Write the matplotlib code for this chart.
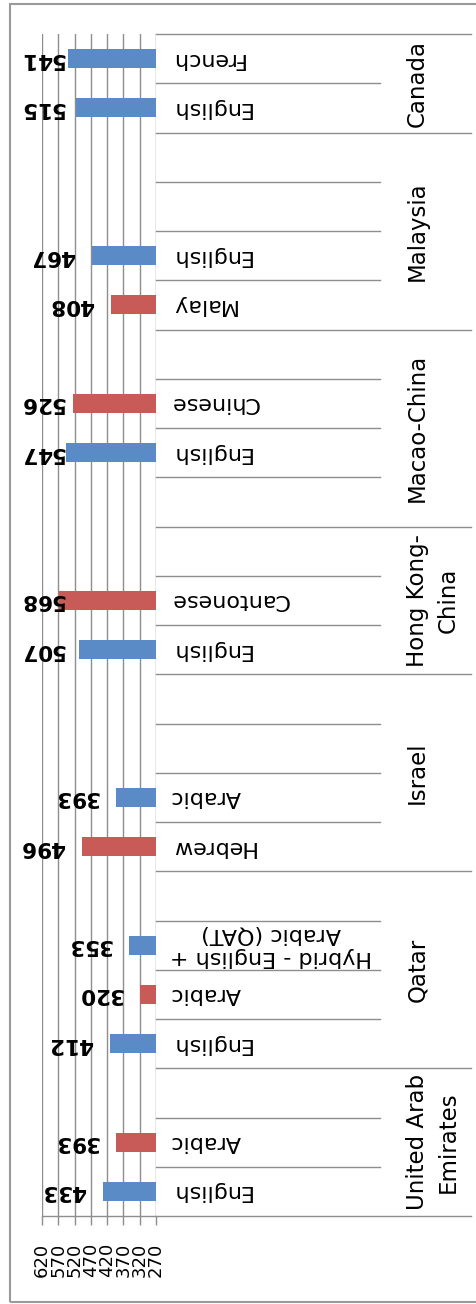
import numpy as np
import matplotlib
matplotlib.use("Agg")
import matplotlib.pyplot as plt
from matplotlib import transforms
from matplotlib.lines import Line2D
from matplotlib.patches import Rectangle

# slots listed bottom -> top, empty slots are spacer rows
countries = ["United Arab\nEmirates", "Qatar", "Israel", "Hong Kong-\nChina",
             "Macao-China", "Malaysia", "Canada"]
group_sizes = [3, 4, 4, 3, 4, 4, 2]
languages = ["English", "Arabic", "",
             "English", "Arabic", "Hybrid - English +\nArabic (QAT)", "",
             "Hebrew", "Arabic", "", "",
             "English", "Cantonese", "",
             "", "English", "Chinese", "",
             "Malay", "English", "", "",
             "English", "French"]
scores = [433, 393, np.nan,
          412, 320, 353, np.nan,
          496, 393, np.nan, np.nan,
          507, 568, np.nan,
          np.nan, 547, 526, np.nan,
          408, 467, np.nan, np.nan,
          515, 541]
# 'b' = blue series, 'r' = red series
series = ["b", "r", "",
          "b", "r", "b", "",
          "r", "b", "", "",
          "b", "r", "",
          "", "b", "r", "",
          "r", "b", "", "",
          "b", "b"]
ticks = [270, 320, 370, 420, 470, 520, 570, 620]

BLUE = "#5b8bc6"
RED = "#c85b57"
GRAY = "#8e8e8e"

W, H = 477, 1304
fig = plt.figure(figsize=(W / 100, H / 100), dpi=100)
fig.patch.set_facecolor("white")

ax = fig.add_axes([42 / W, (H - 1216) / H, 114 / W, (1216 - 34) / H])
ax.set_xlim(620, 270)
ax.set_ylim(-0.5, len(languages) - 0.5)

ypos = np.arange(len(languages))
vals = np.array(scores, dtype=float)
cols = [BLUE if s == "b" else RED for s in series]
mask = ~np.isnan(vals)
ax.barh(ypos[mask], vals[mask] - 270, left=270, height=0.39,
        color=[c for c, m in zip(cols, mask) if m], zorder=3)

ax.set_xticks(ticks)
ax.set_xticklabels([str(t) for t in ticks])
ax.tick_params(axis="x", length=6.5, color=GRAY, width=1, direction="out",
               pad=13, labelrotation=90, labelsize=13)
ax.set_yticks([])
ax.grid(axis="x", color=GRAY, lw=1, zorder=0)
for s in ["top", "left", "right"]:
    ax.spines[s].set_visible(False)
ax.spines["bottom"].set_color(GRAY)
ax.spines["bottom"].set_linewidth(1)

blend = transforms.blended_transform_factory(fig.transFigure, ax.transData)

# language labels, upside down like the source
for y, lab in zip(ypos, languages):
    if lab:
        fig.text(170 / W, y, lab, transform=blend, rotation=180, ha="left",
                 va="center", fontsize=16, multialignment="center")

# value labels
for y, v in zip(ypos, vals):
    if np.isnan(v):
        continue
    end_px = ax.transData.transform((v, 0))[0]
    right_px = max(end_px - 17, 64)
    fig.text(right_px / W, y, f"{int(v)}", transform=blend, rotation=180,
             ha="right", va="center", fontsize=15.5, fontweight="bold")

# category separators
bounds = np.concatenate([[0], np.cumsum(group_sizes)])
for k in range(len(languages) + 1):
    yb = k - 0.5
    x1 = 471 if k in bounds else 380
    fig.add_artist(Line2D([156 / W, x1 / W], [yb, yb], transform=blend,
                          color=GRAY, lw=1))

# country labels
for i, name in enumerate(countries):
    yc = (bounds[i] + bounds[i + 1] - 1) / 2
    fig.text(406 / W, yc, name, transform=blend, rotation=90,
             rotation_mode="anchor", ha="center", va="top",
             multialignment="center", fontsize=16.5, linespacing=1.45)

# chart border
fig.add_artist(Rectangle((10 / W, 2 / H), 480 / W, 1298 / H,
                         transform=fig.transFigure, fill=False,
                         edgecolor="#9a9a9a", lw=1.5))

fig.savefig("out.png", dpi=100)
